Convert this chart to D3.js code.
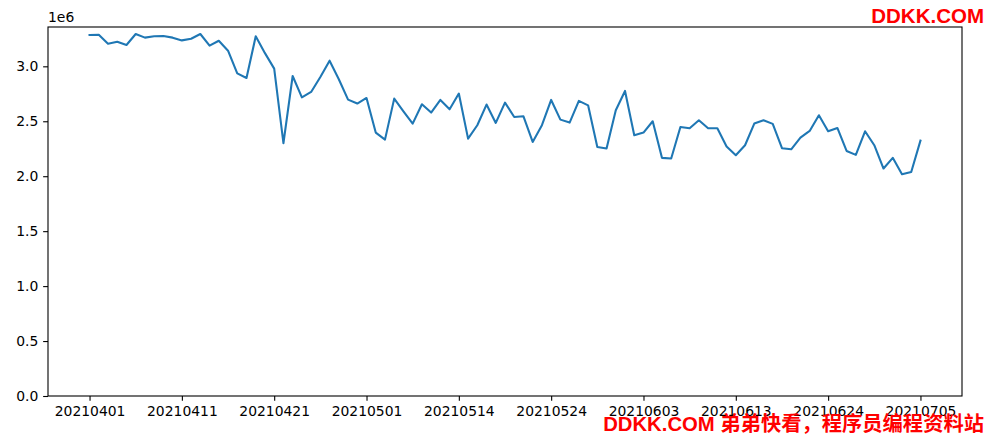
<!DOCTYPE html>
<html>
<head>
<meta charset="utf-8">
<script src="https://cdn.jsdelivr.net/npm/d3@7"></script>
<style>
  html, body { margin: 0; padding: 0; background: #fff; }
  svg { display: block; }
</style>
</head>
<body>
<svg id="chart" width="986" height="434"></svg>
<script>
// ---- data ----
const dates = [
  "20210401","20210402","20210403","20210404","20210405","20210406","20210407","20210408","20210409","20210410",
  "20210411","20210412","20210413","20210414","20210415","20210416","20210417","20210418","20210419","20210420",
  "20210421","20210422","20210423","20210424","20210425","20210426","20210427","20210428","20210429","20210430",
  "20210501","20210505","20210506","20210507","20210508","20210509","20210510","20210511","20210512","20210513",
  "20210514","20210515","20210516","20210517","20210518","20210519","20210520","20210521","20210522","20210523",
  "20210524","20210525","20210526","20210527","20210528","20210529","20210530","20210531","20210601","20210602",
  "20210603","20210604","20210605","20210606","20210607","20210608","20210609","20210610","20210611","20210612",
  "20210613","20210615","20210616","20210617","20210618","20210619","20210620","20210621","20210622","20210623",
  "20210624","20210625","20210626","20210627","20210628","20210629","20210630","20210701","20210702","20210704",
  "20210705"
];
const values = [
  3285000,3288000,3206000,3224000,3194000,3294000,3261000,3273000,3276000,3261000,
  3236000,3251000,3294000,3188000,3233000,3142000,2936000,2894000,3273000,3120000,
  2979000,2300000,2912000,2718000,2767000,2903000,3051000,2882000,2697000,2661000,
  2712000,2397000,2333000,2706000,2591000,2479000,2655000,2579000,2694000,2609000,
  2752000,2342000,2464000,2652000,2485000,2670000,2539000,2545000,2312000,2464000,
  2694000,2515000,2488000,2685000,2645000,2266000,2252000,2600000,2776000,2373000,
  2397000,2500000,2167000,2161000,2448000,2436000,2509000,2436000,2436000,2270000,
  2191000,2282000,2479000,2509000,2476000,2255000,2245000,2352000,2412000,2555000,
  2409000,2439000,2230000,2194000,2409000,2282000,2070000,2167000,2018000,2039000,
  2324000
];
const yTicks = [0, 500000, 1000000, 1500000, 2000000, 2500000, 3000000];
const tickEvery = 10;

(function () {
  // ---- layout ----
  const svg = d3.select("#chart");
  const mLeft = 48, mRight = 962, mTop = 27, mBottom = 396;
  const n = values.length;
  const xm = (n - 1) * 0.05;
  const x = d3.scaleLinear().domain([-xm, n - 1 + xm]).range([mLeft, mRight]);
  const vmin = d3.min(values), vmax = d3.max(values);
  const y = d3.scaleLinear().domain([0, vmax + (vmax - vmin) * 0.05]).range([mBottom, mTop]);

  const font = "'DejaVu Sans', sans-serif";
  const fs = "13.9px";

  // line
  const line = d3.line().x((d, i) => x(i)).y(d => y(d));
  svg.append("path")
    .datum(values)
    .attr("fill", "none")
    .attr("stroke", "#1f77b4")
    .attr("stroke-width", 2.08)
    .attr("stroke-linejoin", "round")
    .attr("stroke-linecap", "square")
    .attr("d", line);

  // axes
  const xTickIdx = d3.range(0, n, tickEvery);
  const xAxis = d3.axisBottom(x)
    .tickValues(xTickIdx)
    .tickFormat(i => dates[i])
    .tickSizeInner(4.86).tickSizeOuter(0).tickPadding(4.86);
  const gx = svg.append("g").attr("transform", `translate(0,${mBottom})`).call(xAxis);
  gx.select(".domain").remove();

  const yAxis = d3.axisLeft(y)
    .tickValues(yTicks)
    .tickFormat(v => (v / 1e6).toFixed(1))
    .tickSizeInner(4.86).tickSizeOuter(0).tickPadding(4.86);
  const gy = svg.append("g").attr("transform", `translate(${mLeft},0)`).call(yAxis);
  gy.select(".domain").remove();

  svg.selectAll(".tick line").attr("stroke", "#000").attr("stroke-width", 1.1);
  svg.selectAll(".tick text").attr("fill", "#000").style("font-family", font).style("font-size", fs);

  // frame
  svg.append("rect")
    .attr("x", mLeft).attr("y", mTop)
    .attr("width", mRight - mLeft).attr("height", mBottom - mTop)
    .attr("fill", "none").attr("stroke", "#000").attr("stroke-width", 1.1);

  // offset text
  svg.append("text")
    .attr("x", mLeft).attr("y", 22)
    .style("font-family", font).style("font-size", fs)
    .attr("fill", "#000")
    .text("1e6");

  // watermarks (overlaid on the picture, as in the original)
  svg.append("text")
    .attr("x", 984).attr("y", 23)
    .attr("text-anchor", "end")
    .style("font-family", "'Liberation Sans', Arial, sans-serif")
    .style("font-weight", "bold").style("font-size", "20.5px")
    .attr("fill", "#ff0000")
    .text("DDKK.COM");
  svg.append("text")
    .attr("x", 984).attr("y", 431)
    .attr("text-anchor", "end")
    .style("font-family", "'Liberation Sans', 'Noto Sans CJK SC', sans-serif")
    .style("font-weight", "bold").style("font-size", "20.3px")
    .attr("fill", "#ff0000")
    .text("DDKK.COM 弟弟快看，程序员编程资料站");
})();
</script>
</body>
</html>
